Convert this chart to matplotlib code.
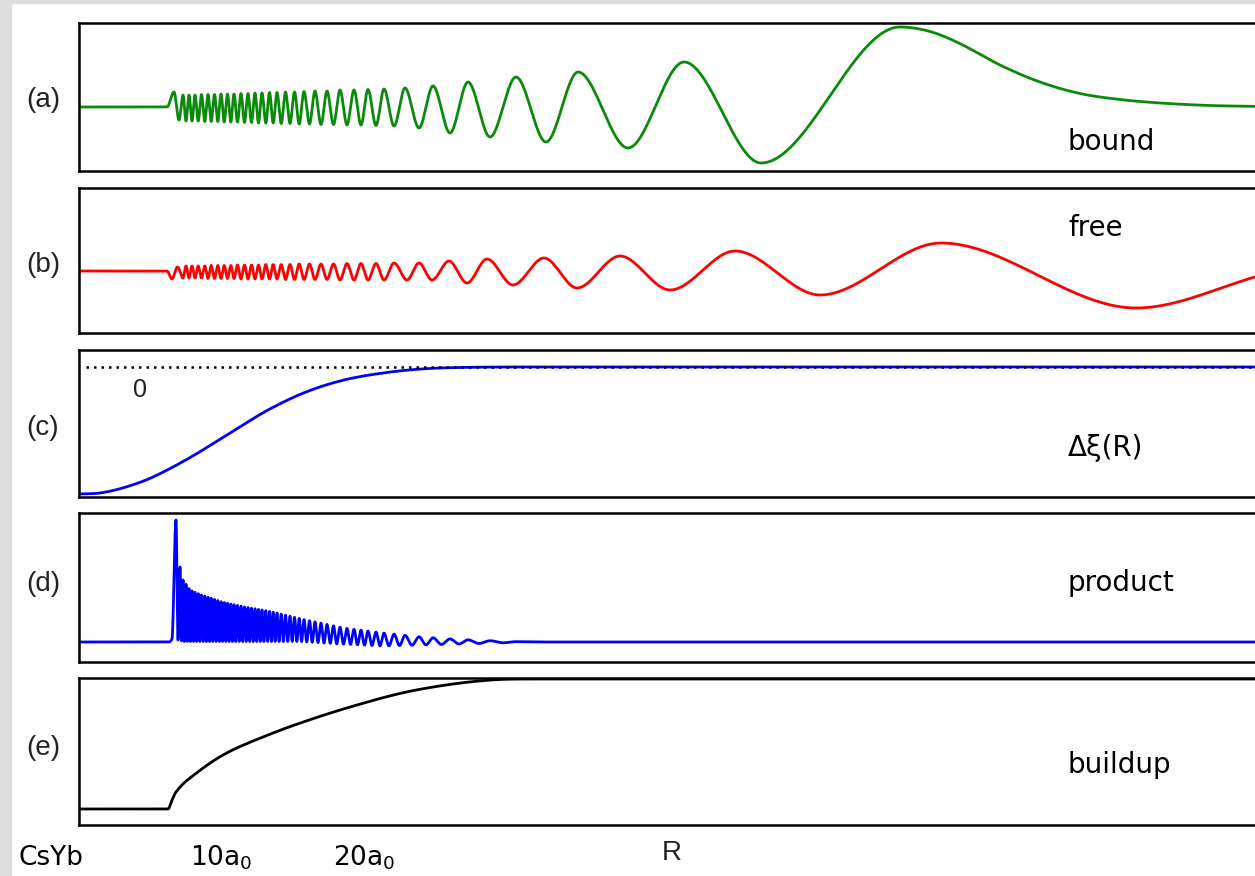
import numpy as np
import matplotlib
matplotlib.use("Agg")
import matplotlib.pyplot as plt
from matplotlib.patches import Rectangle

# R axis in arbitrary units, amplitudes measured from each panel's baseline
R_MIN, R_MAX = 79, 1262

# (a) bound-state wavefunction
bound_lead_r = [79, 167, 174, 179]
bound_lead_v = [0, 0, 15, -13]
bound_peak_r = [183, 189, 195, 201.5, 208, 214.5, 221, 227.5, 234, 241, 248, 255,
                262, 269.5, 277, 285.5, 294.5, 304, 315, 327, 340, 354, 368, 384,
                405, 433, 468, 516, 578, 684, 900]
bound_peak_v = [12, 12, 12, 12.5, 12.5, 12.5, 13, 13, 13, 13.5, 13.5, 14,
                14, 14.5, 14.5, 15, 15, 15.5, 16, 16, 17, 17, 17.5, 18,
                19, 21, 25, 30, 35, 45, 80]
bound_trough_r = [186, 192, 198.2, 204.8, 211.2, 217.8, 224.2, 230.8, 237.5, 244.5,
                  251.5, 258.5, 265.8, 273.2, 281.2, 290, 299.2, 309.5, 321, 333.5,
                  347, 361, 376, 394, 419, 450, 490, 546, 628, 761]
bound_trough_v = [-14, -14, -14, -14.5, -14.5, -14.5, -15, -15, -15, -15.5,
                  -15.5, -16, -16, -16, -16.5, -16.5, -17, -17, -17.5, -17.5,
                  -18, -18, -18.5, -19, -21, -26, -30, -35, -41, -56]
# decaying tail beyond the outermost lobe
bound_tail_r = [930, 960, 1000, 1040, 1080, 1120, 1163, 1210, 1262]
bound_tail_v = [75.5, 63.4, 42, 25, 13.5, 7.5, 3.8, 1.5, 0.5]

# (b) free (scattering) wavefunction
free_lead_r = [79, 167, 172, 177.5]
free_lead_v = [0, 0, -8, 4]
free_peak_r = [186, 192, 198.2, 204.8, 211.2, 217.8, 224.2, 230.8, 237.5, 244.5,
               251.5, 258.5, 265.8, 273.2, 281.2, 290, 299.2, 309.5, 321, 333.5,
               347, 361, 376, 394, 419, 449, 487, 544, 620, 735, 941]
free_peak_v = [5, 5, 5, 5, 5.5, 5.5, 5.5, 5.5, 6, 6, 6, 6, 6.5, 6.5, 6.5, 6.5,
               7, 7, 7, 7, 7.5, 7.5, 7.5, 8, 8, 10, 12, 13, 15, 20, 28]
free_trough_r = [183, 189, 195, 201.5, 208, 214.5, 221, 227.5, 234, 241, 248, 255,
                 262, 269.5, 277, 285.5, 294.5, 304, 315, 327, 340, 354, 368, 384,
                 407, 432, 467, 513, 577, 670, 820, 1136]
free_trough_v = [-7, -7, -7, -7, -7.5, -7.5, -7.5, -7.5, -7.5, -8, -8, -8,
                 -8, -8, -8, -8.5, -8.5, -8.5, -8.5, -8.5, -9, -9, -9, -9,
                 -9, -9, -12, -14, -17, -19, -24, -37]
free_tail_r = [1262]
free_tail_v = [-4]

# (c) coupling difference
delta_r = [79, 100, 126, 153, 191, 230, 268, 306, 344, 383, 421, 459, 520, 1262]
delta_v = [-127, -126, -120, -110, -90, -66, -43, -25, -13, -6, -2, -0.5, 0, 0]

# (d) integrand: spike, then peaks at the bound-state extrema
product_lead_r = [79, 168, 172, 176, 178, 180, 181.5]
product_lead_v = [0, 0, 3, 122, 2, 75, 1]
product_env_r = [183, 190, 199, 222, 245, 268, 306, 344, 383, 421, 459, 497, 525]
product_env_v = [62, 52, 48, 40, 35, 31, 22, 14, 9, 5, 2.5, 1, 0]
product_floor_r = [183, 300, 340, 383, 421, 459, 497, 525]
product_floor_v = [0.5, 0.5, -2, -4, -3, -2, -1, 0]
product_tail_r = [545, 1262]
product_tail_v = [0, 0]

# (e) accumulated integral
buildup_r = [79, 168, 172, 176, 187.5, 223, 268, 312, 357, 402, 446, 491, 530, 1262]
buildup_v = [0, 0, 9, 17, 29, 54, 74, 90, 104, 116, 124, 129, 130, 130]

panel_tags = ["(a)", "(b)", "(c)", "(d)", "(e)"]
panel_names = ["bound", "free", "Δξ(R)", "product", "buildup"]
bottom_labels = ["CsYb", r"10a$_0$", r"20a$_0$"]


def smooth(xk, yk, x):
    """Cubic Hermite curve through the knots, flat at every extremum."""
    xk = np.asarray(xk, float)
    yk = np.asarray(yk, float)
    h = np.diff(xk)
    d = np.diff(yk) / h
    m = np.zeros_like(yk)
    m[0], m[-1] = d[0], d[-1]
    for k in range(1, len(xk) - 1):
        if d[k - 1] * d[k] > 0:
            s = (yk[k + 1] - yk[k - 1]) / (xk[k + 1] - xk[k - 1])
            lim = 3 * min(abs(d[k - 1]), abs(d[k]))
            m[k] = np.sign(s) * min(abs(s), lim)
    i = np.clip(np.searchsorted(xk, x) - 1, 0, len(h) - 1)
    t = (x - xk[i]) / h[i]
    h00 = 2 * t**3 - 3 * t**2 + 1
    h10 = t**3 - 2 * t**2 + t
    h01 = -2 * t**3 + 3 * t**2
    h11 = t**3 - t**2
    return h00 * yk[i] + h10 * h[i] * m[i] + h01 * yk[i + 1] + h11 * h[i] * m[i + 1]


def knots(*pairs):
    r = np.concatenate([p[0] for p in pairs]).astype(float)
    v = np.concatenate([p[1] for p in pairs]).astype(float)
    order = np.argsort(r)
    return r[order], v[order]


r = np.linspace(R_MIN, R_MAX, 12000)

bound_k = knots((bound_lead_r, bound_lead_v), (bound_peak_r, bound_peak_v),
                (bound_trough_r, bound_trough_v), (bound_tail_r, bound_tail_v))
free_k = knots((free_lead_r, free_lead_v), (free_peak_r, free_peak_v),
               (free_trough_r, free_trough_v), (free_tail_r, free_tail_v))

# product peaks sit on every extremum of the bound state
ext = np.sort(np.concatenate([bound_peak_r, bound_trough_r]))
ext = ext[ext <= product_env_r[-1] - 5]
mids = (ext[:-1] + ext[1:]) / 2
product_k = knots((product_lead_r, product_lead_v),
                  (ext, np.interp(ext, product_env_r, product_env_v)),
                  (mids, np.interp(mids, product_floor_r, product_floor_v)),
                  (product_tail_r, product_tail_v))

curves = [
    (smooth(*bound_k, r), "#0a8a0a", 2.0),
    (smooth(*free_k, r), "#ff0000", 2.0),
    (smooth(delta_r, delta_v, r), "#0000ff", 2.0),
    (smooth(*product_k, r), "#0000ff", 2.0),
    (smooth(buildup_r, buildup_v, r), "black", 2.0),
]

W, H = 1255, 876
fig = plt.figure(figsize=(W / 100, H / 100), dpi=100)
fig.add_artist(Rectangle((0, 0), 11 / W, 1, transform=fig.transFigure,
                         color="#dddddd", zorder=0))
fig.add_artist(Rectangle((0, 1 - 3 / H), 1, 3 / H, transform=fig.transFigure,
                         color="#dddddd", zorder=0))


def px(x, y):
    return x / W, 1 - y / H


tops = [23, 188, 350, 513, 678]
bottoms = [171, 333, 497, 662, 825]
bases = [107, 271, 367, 642, 809]
tag_y = [100, 265, 428, 584, 748]
name_y = [142, 228, 448, 583, 765]

for k, (vals, col, lw) in enumerate(curves):
    top, bot, base = tops[k], bottoms[k], bases[k]
    ax = fig.add_axes([R_MIN / W, 1 - bot / H, (R_MAX - R_MIN) / W, (bot - top) / H])
    ax.plot(r, vals, color=col, lw=lw, solid_joinstyle="round")
    ax.set_xlim(R_MIN, R_MAX)
    ax.set_ylim(base - bot, base - top)
    ax.set_xticks([])
    ax.set_yticks([])
    for s in ax.spines.values():
        s.set_linewidth(1.8)
    if k == 2:
        ax.hlines(0, 86, R_MAX, colors="black", lw=1.8,
                  linestyles=(0, (1, 2)), zorder=3)
        ax.text(140, -23, "0", fontsize=18, family="Liberation Sans",
                color="#222222", ha="center", va="center")
    fig.text(*px(43, tag_y[k]), panel_tags[k], fontsize=20,
             family="Liberation Sans", color="#222222", ha="center", va="center")
    fig.text(*px(1068, name_y[k]), panel_names[k], fontsize=20,
             family="DejaVu Sans", ha="left", va="center")

for lab, x0 in zip(bottom_labels, [18, 190, 333]):
    fig.text(*px(x0, 858), lab, fontsize=19, family="DejaVu Sans",
             ha="left", va="center")
fig.text(*px(672, 853), "R", fontsize=20, family="Liberation Sans",
         color="#222222", ha="center", va="center")

fig.savefig("out.png", dpi=100)
